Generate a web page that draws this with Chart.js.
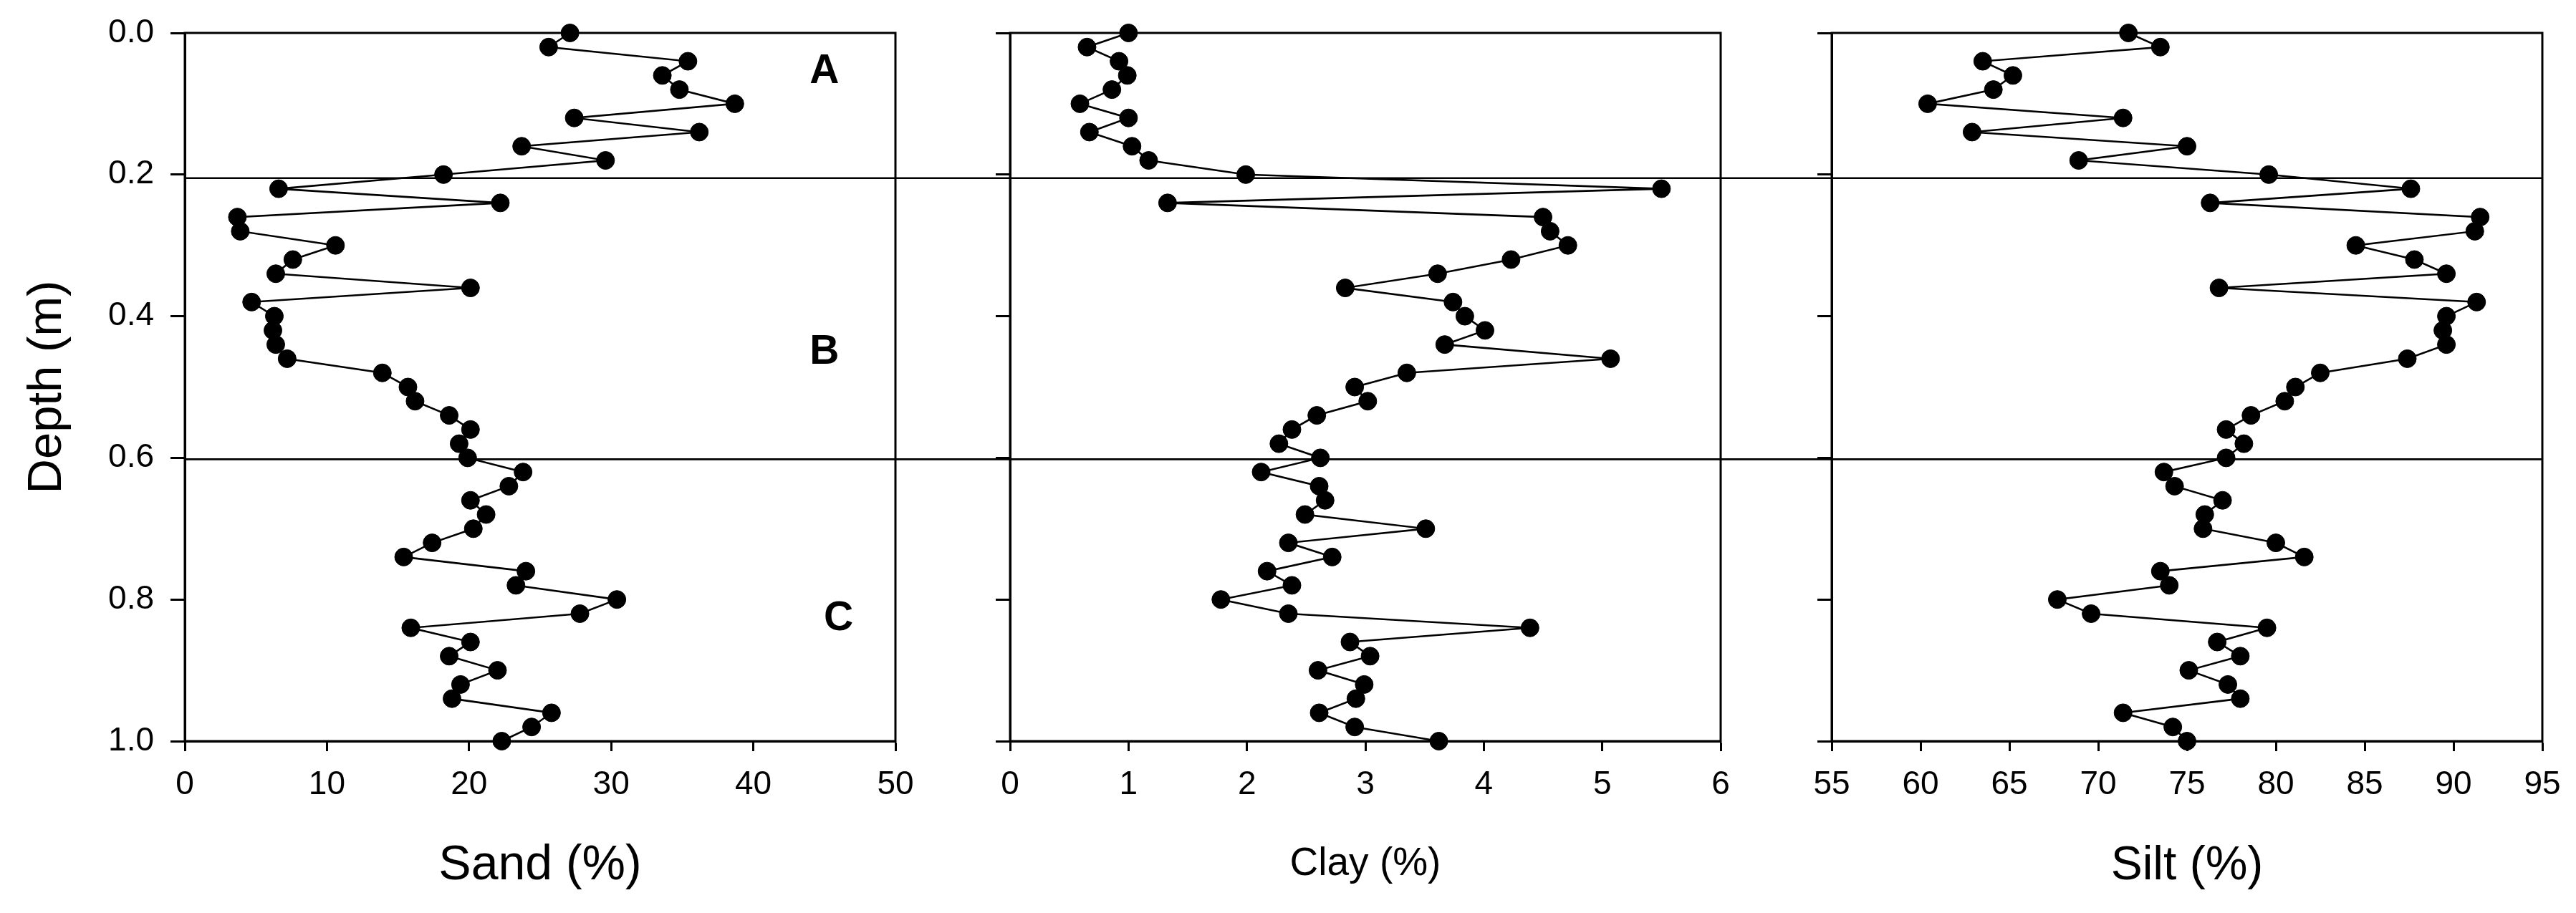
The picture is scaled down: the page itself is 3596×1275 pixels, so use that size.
<!DOCTYPE html>
<html>
<head>
<meta charset="utf-8">
<script src="https://cdn.jsdelivr.net/npm/chart.js@4"></script>
<style>
  html, body { margin: 0; padding: 0; background: #fff; }
  body { width: 3596px; height: 1275px; position: relative; overflow: hidden; }
  canvas { position: absolute; top: 0; }
</style>
</head>
<body>
<canvas id="sand" width="1330" height="1275" style="left:0px;width:1330px;height:1275px"></canvas>
<canvas id="clay" width="1150" height="1275" style="left:1330px;width:1150px;height:1275px"></canvas>
<canvas id="silt" width="1116" height="1275" style="left:2480px;width:1116px;height:1275px"></canvas>
<script>
// ---- data ----
const depth = [0.00,0.02,0.04,0.06,0.08,0.10,0.12,0.14,0.16,0.18,
               0.20,0.22,0.24,0.26,0.28,0.30,0.32,0.34,0.36,0.38,
               0.40,0.42,0.44,0.46,0.48,0.50,0.52,0.54,0.56,0.58,
               0.60,0.62,0.64,0.66,0.68,0.70,0.72,0.74,0.76,0.78,
               0.80,0.82,0.84,0.86,0.88,0.90,0.92,0.94,0.96,0.98,1.00];
const sand = [27.1,25.6,35.4,33.6,34.8,38.7,27.4,36.2,23.7,29.6,
              18.2,6.6,22.2,3.7,3.9,10.6,7.6,6.4,20.1,4.7,
              6.3,6.2,6.4,7.2,13.9,15.7,16.2,18.6,20.1,19.3,
              19.9,23.8,22.8,20.1,21.2,20.3,17.4,15.4,24.0,23.3,
              30.4,27.8,15.9,20.1,18.6,22.0,19.4,18.8,25.8,24.4,22.3];
const clay = [1.00,0.65,0.92,0.99,0.86,0.59,1.00,0.67,1.03,1.17,
              1.99,5.50,1.33,4.50,4.56,4.71,4.23,3.61,2.83,3.74,
              3.84,4.01,3.67,5.07,3.35,2.91,3.02,2.59,2.38,2.27,
              2.62,2.12,2.61,2.66,2.49,3.51,2.35,2.72,2.17,2.38,
              1.78,2.35,4.39,2.87,3.04,2.60,2.99,2.92,2.61,2.91,3.62];
const silt = [71.7,73.5,63.5,65.2,64.1,60.4,71.4,62.9,75.0,68.9,
              79.6,87.6,76.3,91.5,91.2,84.5,87.8,89.6,76.8,91.3,
              89.6,89.4,89.6,87.4,82.5,81.1,80.5,78.6,77.2,78.2,
              77.2,73.7,74.3,77.0,76.0,75.9,80.0,81.6,73.5,74.0,
              67.7,69.6,79.5,76.7,78.0,75.1,77.3,78.0,71.4,74.2,75.0];
const depthTicks = [0.0, 0.2, 0.4, 0.6, 0.8, 1.0];
const boundaryDepths = [0.205, 0.602];
const zoneLabels = [
  {text: 'A', x: 45.0, y: 0.055},
  {text: 'B', x: 45.0, y: 0.451},
  {text: 'C', x: 46.0, y: 0.827}
];

// ---- styling ----
const FONT = "'Liberation Sans', Arial, Helvetica, sans-serif";
const CHART_TOP = 46;
const XAXIS_H = 240;

const framePlugin = {
  id: 'frame',
  beforeDatasetsDraw(chart, args, opts) {
    const {ctx, chartArea: a} = chart;
    ctx.save();
    ctx.strokeStyle = '#000';
    ctx.lineWidth = 3;
    ctx.strokeRect(a.left, a.top, a.right - a.left, a.bottom - a.top);
    const ys = chart.scales.y, xs = chart.scales.x;
    ctx.lineWidth = 2.6;
    for (const d of boundaryDepths) {
      const py = ys.getPixelForValue(d);
      const x0 = opts.extendLeft ? 0 : a.left;
      const x1 = opts.extendRight ? chart.width : a.right;
      ctx.beginPath();
      ctx.moveTo(x0, py);
      ctx.lineTo(x1, py);
      ctx.stroke();
    }
    if (opts.labels) {
      ctx.fillStyle = '#000';
      ctx.font = 'bold 57px ' + FONT;
      ctx.textAlign = 'center';
      ctx.textBaseline = 'middle';
      for (const l of opts.labels) {
        ctx.fillText(l.text, xs.getPixelForValue(l.x), ys.getPixelForValue(l.y));
      }
    }
    ctx.restore();
  }
};

function makeChart(id, values, cfg) {
  const pts = depth.map((d, i) => ({x: values[i], y: d}));
  return new Chart(document.getElementById(id), {
    type: 'scatter',
    data: {
      datasets: [{
        data: pts,
        showLine: true,
        borderColor: '#000',
        borderWidth: 2.6,
        backgroundColor: '#000',
        pointRadius: 12.5,
        pointBorderWidth: 1,
        pointBackgroundColor: '#000',
        pointBorderColor: '#000',
        tension: 0,
        clip: false
      }]
    },
    options: {
      responsive: false,
      animation: false,
      events: [],
      layout: { padding: { top: CHART_TOP, right: cfg.rightPad, left: 0, bottom: 0 } },
      plugins: {
        legend: { display: false },
        tooltip: { enabled: false },
        frame: { extendLeft: cfg.extendLeft, extendRight: cfg.extendRight, labels: cfg.labels }
      },
      scales: {
        x: {
          type: 'linear',
          position: 'bottom',
          min: cfg.xmin, max: cfg.xmax,
          afterBuildTicks: s => { s.ticks = cfg.xticks.map(v => ({value: v})); },
          afterFit: s => { s.height = XAXIS_H; s.paddingLeft = 0; s.paddingRight = 0; s.paddingTop = 0; s.paddingBottom = 0; },
          ticks: {
            color: '#000',
            font: { family: FONT, size: 46 },
            padding: 20,
            maxRotation: 0,
            autoSkip: false,
            callback: v => String(v)
          },
          grid: {
            drawOnChartArea: false,
            drawTicks: true,
            tickLength: 14,
            tickWidth: 3,
            tickColor: '#000'
          },
          border: { display: true, color: '#000', width: 3 },
          title: {
            display: true,
            text: cfg.title,
            color: '#000',
            font: { family: FONT, size: cfg.titleSize },
            padding: { top: 0, bottom: cfg.titlePadBottom }
          }
        },
        y: {
          type: 'linear',
          position: 'left',
          reverse: true,
          min: 0, max: 1,
          afterBuildTicks: s => { s.ticks = depthTicks.map(v => ({value: v})); },
          afterFit: s => { s.width = cfg.yWidth; s.paddingTop = 0; s.paddingBottom = 0; s.paddingLeft = 0; s.paddingRight = 0; },
          ticks: {
            display: cfg.showYLabels,
            color: '#000',
            font: { family: FONT, size: 46 },
            padding: 23,
            autoSkip: false,
            callback: v => Number(v).toFixed(1)
          },
          grid: {
            drawOnChartArea: false,
            drawTicks: true,
            tickLength: 20,
            tickWidth: 3,
            tickColor: '#000'
          },
          border: { display: true, color: '#000', width: 3 },
          title: {
            display: cfg.showYLabels,
            text: 'Depth (m)',
            color: '#000',
            font: { family: FONT, size: 67 },
            padding: { top: 26, bottom: 0 }
          }
        }
      }
    },
    plugins: [framePlugin]
  });
}

makeChart('sand', sand, {
  xmin: 0, xmax: 50, xticks: [0, 10, 20, 30, 40, 50],
  title: 'Sand (%)', titleSize: 68, titlePadBottom: 25,
  yWidth: 258, rightPad: 80, showYLabels: true,
  extendLeft: false, extendRight: true, labels: zoneLabels
});
makeChart('clay', clay, {
  xmin: 0, xmax: 6, xticks: [0, 1, 2, 3, 4, 5, 6],
  title: 'Clay (%)', titleSize: 55, titlePadBottom: 35,
  yWidth: 80, rightPad: 78, showYLabels: false,
  extendLeft: true, extendRight: true, labels: null
});
makeChart('silt', silt, {
  xmin: 55, xmax: 95, xticks: [55, 60, 65, 70, 75, 80, 85, 90, 95],
  title: 'Silt (%)', titleSize: 66, titlePadBottom: 26,
  yWidth: 77, rightPad: 47, showYLabels: false,
  extendLeft: true, extendRight: false, labels: null
});
</script>
</body>
</html>
